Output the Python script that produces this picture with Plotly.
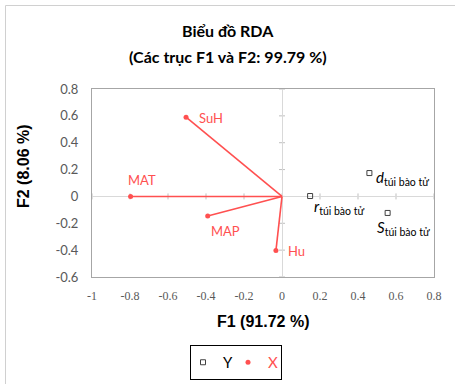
import plotly.graph_objects as go

# ---- data ----
x_names = ["SuH", "MAT", "MAP", "Hu"]
x_f1 = [-0.505, -0.797, -0.391, -0.032]
x_f2 = [0.59, 0.0, -0.146, -0.403]

y_names = ["r", "d", "S"]
y_sub = "túi bào tử"
y_f1 = [0.148, 0.46, 0.556]
y_f2 = [0.003, 0.174, -0.123]

x_ticks = [-1, -0.8, -0.6, -0.4, -0.2, 0, 0.2, 0.4, 0.6, 0.8]
x_ticktext = ["-1", "-0.8", "-0.6", "-0.4", "-0.2", "0", "0.2", "0.4", "0.6", "0.8"]
y_ticks = [-0.6, -0.4, -0.2, 0, 0.2, 0.4, 0.6, 0.8]
y_ticktext = ["-0.6", "-0.4", "-0.2", "0", "0.2", "0.4", "0.6", "0.8"]

title_1 = "Biểu đồ RDA"
title_2 = "(Các trục F1 và F2: 99.79 %)"
f1_title = "F1 (91.72 %)"
f2_title = "F2 (8.06 %)"

# ---- style ----
RED = "#ff5050"
W, H = 455, 384
ML, MR, MT, MB = 92, 21, 89, 107
PW, PH = W - ML - MR, H - MT - MB


def px_x(px):
    return (px - ML) / PW


def px_y(py):
    return (H - MB - py) / PH


x_label_off = {"SuH": (11, -1), "MAT": (-5, 16), "MAP": (1, -15), "Hu": (10, 0)}
y_label_off = {"r": (2, -11), "d": (5, -5), "S": (-13, -15)}

fig = go.Figure()

# arrows (lines) for X variables
for n, a, b in zip(x_names, x_f1, x_f2):
    fig.add_trace(go.Scatter(x=[0, a], y=[0, b], mode="lines",
                             line=dict(color=RED, width=1.6),
                             showlegend=False, hoverinfo="skip"))

fig.add_trace(go.Scatter(x=y_f1, y=y_f2, mode="markers", name="Y",
                         marker=dict(symbol="square-open", size=5,
                                     color="#404040", line=dict(width=1))))
fig.add_trace(go.Scatter(x=x_f1, y=x_f2, mode="markers",
                         name="<span style='color:%s'>X</span>" % RED,
                         marker=dict(symbol="circle", size=5, color=RED)))

annotations = []
for n, a, b in zip(x_names, x_f1, x_f2):
    dx, dy = x_label_off[n]
    annotations.append(dict(x=a, y=b, xref="x", yref="y", text=n, showarrow=False,
                            xanchor="left", yanchor="middle", xshift=dx, yshift=dy,
                            font=dict(family="Lato", size=13, color=RED)))
for n, a, b in zip(y_names, y_f1, y_f2):
    dx, dy = y_label_off[n]
    annotations.append(dict(x=a, y=b, xref="x", yref="y",
                            text="<i>%s</i><sub>%s</sub>" % (n, y_sub), showarrow=False,
                            xanchor="left", yanchor="middle", xshift=dx, yshift=dy,
                            font=dict(family="Lato", size=15, color="#000000")))

# titles
annotations.append(dict(x=px_x(227.5), y=px_y(31), xref="paper", yref="paper",
                        text="<b>%s</b>" % title_1, showarrow=False,
                        xanchor="center", yanchor="middle",
                        font=dict(family="Lato", size=16, color="#000000")))
annotations.append(dict(x=px_x(228), y=px_y(57), xref="paper", yref="paper",
                        text="<b>%s</b>" % title_2, showarrow=False,
                        xanchor="center", yanchor="middle",
                        font=dict(family="Lato", size=16, color="#000000")))
annotations.append(dict(x=0.5, y=px_y(321), xref="paper", yref="paper",
                        text="<b>%s</b>" % f1_title, showarrow=False,
                        xanchor="center", yanchor="middle",
                        font=dict(family="Liberation Sans", size=16, color="#000000")))
annotations.append(dict(x=px_x(23), y=px_y(166), xref="paper", yref="paper",
                        text="<b>%s</b>" % f2_title, showarrow=False, textangle=-90,
                        xanchor="center", yanchor="middle",
                        font=dict(family="Liberation Sans", size=16, color="#000000")))

shapes = []
TICK = "#bfbfbf"
for xv in x_ticks:
    shapes.append(dict(type="line", xref="x", yref="y", x0=xv, x1=xv,
                       ysizemode="pixel", yanchor=0, y0=-3, y1=3,
                       line=dict(color=TICK, width=1), layer="below"))
for yv in y_ticks:
    shapes.append(dict(type="line", xref="x", yref="y", y0=yv, y1=yv,
                       xsizemode="pixel", xanchor=0, x0=-3, x1=3,
                       line=dict(color=TICK, width=1), layer="below"))
# chart outer border (left and top visible)
shapes.append(dict(type="line", xref="paper", yref="paper",
                   x0=px_x(5.5), x1=px_x(5.5), y0=px_y(5.5), y1=px_y(400),
                   line=dict(color="#d0d0d0", width=1)))
shapes.append(dict(type="line", xref="paper", yref="paper",
                   x0=px_x(5.5), x1=px_x(470), y0=px_y(5.5), y1=px_y(5.5),
                   line=dict(color="#d0d0d0", width=1)))

fig.update_layout(
    width=W, height=H,
    margin=dict(l=ML, r=MR, t=MT, b=MB, pad=0, autoexpand=False),
    paper_bgcolor="white", plot_bgcolor="white",
    font=dict(family="Lato", color="#595959"),
    showlegend=True,
    legend=dict(orientation="h", x=236 / W, xanchor="center", xref="container",
                y=1 - 345 / H, yanchor="top", yref="container",
                bordercolor="#000000", borderwidth=1, indentation=-8,
                font=dict(family="Lato", size=15, color="#000000"),
                itemwidth=30, entrywidth=8, entrywidthmode="pixels"),
    annotations=annotations,
    shapes=shapes,
)
fig.update_xaxes(range=[-1, 0.8], tickvals=x_ticks, ticktext=x_ticktext,
                 showgrid=False, zeroline=True, zerolinecolor="#d9d9d9", zerolinewidth=1,
                 showline=True, mirror=True, linecolor="#a6a6a6", linewidth=1,
                 ticks="", ticklabelstandoff=8, automargin=False,
                 tickfont=dict(family="Liberation Serif", size=12, color="#595959"))
fig.update_yaxes(range=[-0.6, 0.8], tickvals=y_ticks, ticktext=y_ticktext,
                 showgrid=False, zeroline=True, zerolinecolor="#d9d9d9", zerolinewidth=1,
                 showline=True, mirror=True, linecolor="#a6a6a6", linewidth=1,
                 ticks="", ticklabelstandoff=10, automargin=False,
                 tickfont=dict(family="Lato", size=13, color="#595959"))

fig.write_html("out.html", config={"displayModeBar": False},
               post_script="document.body.style.margin='0';document.body.style.overflow='hidden';")
